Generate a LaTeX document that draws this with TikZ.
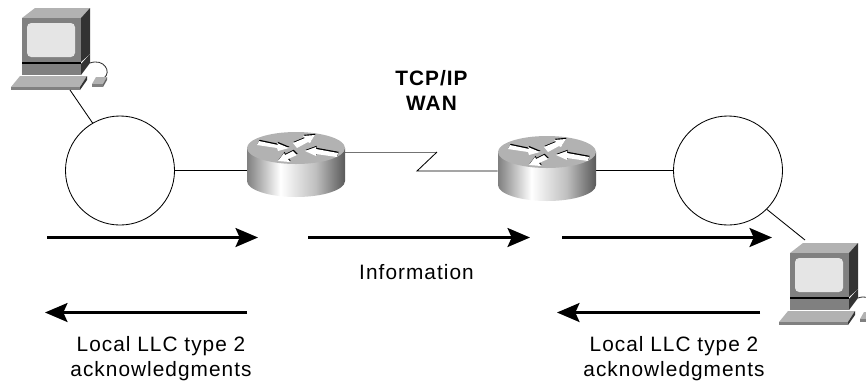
\documentclass[tikz,border=0pt]{standalone}
\usepackage{fontspec}
\setmainfont{Liberation Sans}[LetterSpace=5]
\usetikzlibrary{arrows.meta}
\usetikzlibrary{positioning}

\definecolor{pcface}{gray}{0.50}
\definecolor{pctop}{gray}{0.70}
\definecolor{pcside}{gray}{0.20}
\definecolor{pcscreen}{gray}{0.90}
\pgfdeclarehorizontalshading{routerside}{100bp}{color(0bp)=(black!50); color(25bp)=(black!50); color(42bp)=(white); color(60bp)=(black!25); color(75bp)=(black!65); color(100bp)=(black!65)}

\newcommand{\routerflash}[1]{
  \fill[black, shift={(0.6,-1.2)}] #1 -- cycle;
  \fill[white] #1 -- cycle;
}

\tikzset{
  ring/.style={draw, circle, inner sep=0pt, minimum size=2.725cm, line width=0.6pt},
  routerbox/.style={inner sep=0pt, minimum width=2.45cm, minimum height=1.6cm},
  link/.style={line width=0.6pt},
  flow/.style={line width=1.9pt, -{Stealth[length=16pt, width=13.5pt, inset=3pt]}},
  label/.style={font=\fontsize{14.8pt}{17.8pt}\selectfont, inner sep=0pt, align=center},
  pc/.pic={
    \coordinate (-foot) at (70,90);
    \fill[pctop] (22,18) -- (35,8) -- (90,8) -- (81,18) -- cycle;
    \fill[pcside] (81,18) -- (90,8) -- (90,54) -- (81,62) -- cycle;
    \fill[pcface] (22,18) rectangle (81,62);
    \fill[pcscreen, rounded corners=3pt] (27,23) rectangle (75,57);
    \fill[black] (22,62) rectangle (81,64);
    \fill[pcface] (22,64) rectangle (81,75);
    \fill[pcside] (81,64) -- (90,54) -- (90,63) -- (81,75) -- cycle;
    \draw[line width=0.6pt, pcside] (90,63) .. controls (104,58) and (112,72) .. (104,78);
    \fill[pctop] (96,77) -- (107,77) -- (103,84) -- (92,84) -- cycle;
    \fill[pcface] (92,84) rectangle (103,87);
    \fill[pcface!80!black] (103,84) -- (107,77) -- (107,80) -- (103,87) -- cycle;
    \fill[pctop] (11,87) -- (20,76) -- (87,76) -- (80,87) -- cycle;
    \fill[pcface] (11,87) rectangle (80,90);
    \fill[pcside] (80,87) -- (87,76) -- (87,80) -- (80,90) -- cycle;
  },
  router/.pic={
    \shade[shading=routerside] (-49,0) -- (-49,33) arc[start angle=180, end angle=0, x radius=49, y radius=16] -- (49,0) -- cycle;
    \fill[pctop] (0,0) ellipse [x radius=49, y radius=16];
    \routerflash{(-37,-7) -- (-18,-3) -- (-19,-5) -- (-7,0) -- (-18,3) -- (-19,0) -- (-39,-3)}
    \routerflash{(9,3) -- (20,-1) -- (20,1) -- (42,5) -- (41,9) -- (20,6) -- (20,8)}
    \routerflash{(19,-13) -- (7,-12) -- (9,-10) -- (-3,-5) -- (1,0) -- (12,-6) -- (14,-5)}
    \routerflash{(-18,13) -- (-6,14) -- (-8,11) -- (1,7) -- (-3,3) -- (-11,7) -- (-12,5)}
  }
}

\begin{document}
\begin{tikzpicture}[x=0.025cm, y=-0.025cm]

\clip (0,0) rectangle (866,384);

\node[ring] (ringL) at (120,170.5) {};
\node[ring] (ringR) at (728,170.5) {};
\node[routerbox] (routerL) at (296,164) {};
\node[routerbox] (routerR) at (547,168) {};

\coordinate (zigA) at (437,152);
\coordinate (zigB) at (417,171);

\draw pic (pcL) at (0,0) {pc};
\draw[link] (ringL.120) -- (pcL-foot);
\draw[link] (ringL.east) -- (ringL.east -| routerL.west);
\draw[link, black!55] (routerL.east |- zigA) -- (zigA);
\draw[link] (zigA) -- (zigB) -- (zigB -| routerR.west);
\draw[link] (routerR.east |- ringR) -- (ringR.west);

\coordinate (pcRneck) at (805,240);
\draw[link] (ringR.-45) -- (pcRneck);
\draw pic (pcR) at (768,235) {pc};

\draw pic at (296,148) {router};
\draw pic at (547,152) {router};

% flow arrows
\coordinate (goA) at (47,237.5);
\coordinate (goB) at (258,237.5);
\coordinate (goC) at (308,237.5);
\coordinate (goD) at (530,237.5);
\coordinate (goE) at (562,237.5);
\coordinate (goF) at (772,237.5);
\coordinate (backA) at (247,312.5);
\coordinate (backB) at (45,312.5);
\coordinate (backC) at (760,312.5);
\coordinate (backD) at (557,312.5);

\draw[flow] (goA) to (goB);
\draw[flow] (goC) to (goD);
\draw[flow] (goE) to (goF);
\draw[flow] (backA) to (backB);
\draw[flow] (backC) to (backD);

\node[label] (wan) at (432,90) {\textbf{TCP/IP}\\\textbf{WAN}};
\node[label] (info) at (416.5,272) {Information};
\node[label] (ackL) at (161,358.5) {Local LLC type 2\\acknowledgments};
\node[label] (ackR) at (674,358.5) {Local LLC type 2\\acknowledgments};

\end{tikzpicture}
\end{document}
